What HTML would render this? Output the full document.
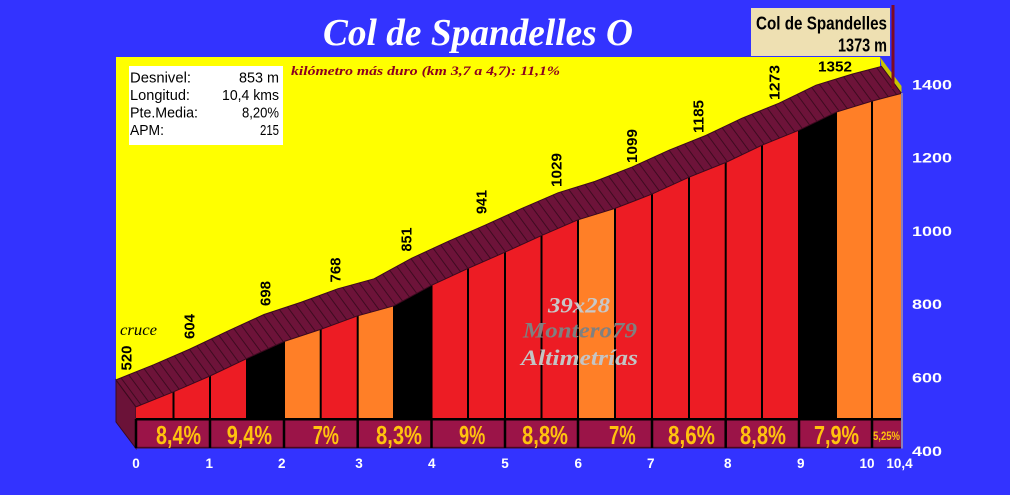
<!DOCTYPE html>
<html><head><meta charset="utf-8"><style>
html,body{margin:0;padding:0;background:#3333ff;}
svg{display:block;}
</style></head><body>
<svg width="1010" height="495" viewBox="0 0 1010 495" xmlns="http://www.w3.org/2000/svg">
<defs>
<pattern id="h" width="8" height="20" patternUnits="userSpaceOnUse" patternTransform="rotate(-36.5)">
<rect x="0" y="0" width="1" height="20" fill="#3e0b20"/>
</pattern>
</defs>
<rect x="0" y="0" width="1010" height="495" fill="#3333ff"/>
<!-- title -->
<text x="323" y="45" font-family="Liberation Serif, serif" font-style="italic" font-weight="600" font-size="38" fill="#ffffff" textLength="310" lengthAdjust="spacingAndGlyphs">Col de Spandelles O</text>
<!-- yellow back panel -->
<rect x="116" y="57" width="764" height="364" fill="#ffff00"/>
<!-- right side strip -->
<polygon points="880,57 901.5,86 901.5,93.4 881.5,66.4" fill="#c8c400"/>
<!-- flag box -->
<rect x="751" y="8" width="139" height="48" fill="#eee0b2"/>
<text x="756" y="29.3" font-family="Liberation Sans Narrow, Liberation Sans, sans-serif" font-weight="bold" font-size="18" fill="#000" textLength="131" lengthAdjust="spacingAndGlyphs">Col de Spandelles</text>
<text x="838" y="51.7" font-family="Liberation Sans Narrow, Liberation Sans, sans-serif" font-weight="bold" font-size="18" fill="#000" textLength="49" lengthAdjust="spacingAndGlyphs">1373 m</text>
<!-- info box -->
<rect x="129" y="66" width="154" height="79" fill="#ffffff"/>
<g font-family="Liberation Sans, sans-serif" font-size="15" fill="#000">
<text x="130" y="82.5" textLength="61" lengthAdjust="spacingAndGlyphs">Desnivel:</text>
<text x="130" y="100" textLength="60" lengthAdjust="spacingAndGlyphs">Longitud:</text>
<text x="130" y="117.5" textLength="68" lengthAdjust="spacingAndGlyphs">Pte.Media:</text>
<text x="130" y="135" textLength="34" lengthAdjust="spacingAndGlyphs">APM:</text>
<text x="239" y="82.5" textLength="40" lengthAdjust="spacingAndGlyphs">853 m</text>
<text x="222" y="100" textLength="57" lengthAdjust="spacingAndGlyphs">10,4 kms</text>
<text x="242" y="117.5" textLength="37" lengthAdjust="spacingAndGlyphs">8,20%</text>
<text x="260" y="135" textLength="19" lengthAdjust="spacingAndGlyphs">215</text>
</g>
<text x="291" y="75" font-family="Liberation Serif, serif" font-style="italic" font-weight="bold" font-size="12.5" fill="#8b0020" textLength="269" lengthAdjust="spacingAndGlyphs">kilómetro más duro (km 3,7 a 4,7):  11,1%</text>

<!-- left side face -->
<polygon points="116,379.9 136,406.9 136,448.5 116,422" fill="#6b1238" stroke="#3a0a1e" stroke-width="1"/>

<!-- front bars base red -->
<polygon points="136,406.9 173.5,391.8 210,376 247,358.4 284,341.5 320.7,329.4 357.7,315.8 394,305.8 431.5,285.3 468,268.4 505,252.2 541.5,235.6 578,219.8 615,208.4 652,194.1 689,177.2 725.7,162.5 762,145.2 799,130.2 836,112.2 872,101.1 901.5,93.4 901.5,419 136,419" fill="#ed1c24"/>
<!-- black segments -->
<polygon points="247,358.4 284,341.5 284,419 247,419" fill="#000"/>
<polygon points="394,305.8 431.5,285.3 431.5,419 394,419" fill="#000"/>
<polygon points="799,130.2 836,112.2 836,419 799,419" fill="#000"/>
<!-- orange segments -->
<polygon points="284,341.5 320.7,329.4 320.7,419 284,419" fill="#ff7f27"/>
<polygon points="357.7,315.8 394,305.8 394,419 357.7,419" fill="#ff7f27"/>
<polygon points="578,219.8 615,208.4 615,419 578,419" fill="#ff7f27"/>
<polygon points="836,112.2 872,101.1 901.5,93.4 901.5,419 836,419" fill="#ff7f27"/>

<!-- dividers -->
<g stroke="#000" stroke-width="2">
<line x1="173.5" y1="391.8" x2="173.5" y2="419"/>
<line x1="210" y1="376" x2="210" y2="419"/>
<line x1="247" y1="358.4" x2="247" y2="419"/>
<line x1="284" y1="341.5" x2="284" y2="419"/>
<line x1="320.7" y1="329.4" x2="320.7" y2="419"/>
<line x1="357.7" y1="315.8" x2="357.7" y2="419"/>
<line x1="394" y1="305.8" x2="394" y2="419"/>
<line x1="431.5" y1="285.3" x2="431.5" y2="419"/>
<line x1="468" y1="268.4" x2="468" y2="419"/>
<line x1="505" y1="252.2" x2="505" y2="419"/>
<line x1="541.5" y1="235.6" x2="541.5" y2="419"/>
<line x1="578" y1="219.8" x2="578" y2="419"/>
<line x1="615" y1="208.4" x2="615" y2="419"/>
<line x1="652" y1="194.1" x2="652" y2="419"/>
<line x1="689" y1="177.2" x2="689" y2="419"/>
<line x1="725.7" y1="162.5" x2="725.7" y2="419"/>
<line x1="762" y1="145.2" x2="762" y2="419"/>
<line x1="799" y1="130.2" x2="799" y2="419"/>
<line x1="836" y1="112.2" x2="836" y2="419"/>
<line x1="872" y1="101.1" x2="872" y2="419"/>
</g>

<!-- top face -->
<polygon points="136,406.9 173.5,391.8 210,376 247,358.4 284,341.5 320.7,329.4 357.7,315.8 394,305.8 431.5,285.3 468,268.4 505,252.2 541.5,235.6 578,219.8 615,208.4 652,194.1 689,177.2 725.7,162.5 762,145.2 799,130.2 836,112.2 872,101.1 901.5,93.4 881.5,66.4 852,74.1 816,85.2 779,103.2 742,118.2 705.7,135.5 669,150.2 632,167.1 595,181.4 558,192.8 521.5,208.6 485,225.2 448,241.4 411.5,258.3 374,278.8 337.7,288.8 300.7,302.4 264,314.5 227,331.4 190,349 153.5,364.8 116,379.9" fill="#6d1339"/>
<polygon points="136,406.9 173.5,391.8 210,376 247,358.4 284,341.5 320.7,329.4 357.7,315.8 394,305.8 431.5,285.3 468,268.4 505,252.2 541.5,235.6 578,219.8 615,208.4 652,194.1 689,177.2 725.7,162.5 762,145.2 799,130.2 836,112.2 872,101.1 901.5,93.4 881.5,66.4 852,74.1 816,85.2 779,103.2 742,118.2 705.7,135.5 669,150.2 632,167.1 595,181.4 558,192.8 521.5,208.6 485,225.2 448,241.4 411.5,258.3 374,278.8 337.7,288.8 300.7,302.4 264,314.5 227,331.4 190,349 153.5,364.8 116,379.9" fill="url(#h)" stroke="#3a0a1e" stroke-width="1"/>

<!-- band -->
<rect x="136" y="419" width="765.5" height="29" fill="#9b1448"/>
<rect x="136" y="418" width="765.5" height="2.5" fill="#000"/>
<rect x="136" y="446.8" width="765.5" height="1.7" fill="#4a0820"/>
<g stroke="#000" stroke-width="2.5">
<line x1="136" y1="419" x2="136" y2="448"/>
<line x1="210" y1="419" x2="210" y2="448"/>
<line x1="284" y1="419" x2="284" y2="448"/>
<line x1="357.7" y1="419" x2="357.7" y2="448"/>
<line x1="431.5" y1="419" x2="431.5" y2="448"/>
<line x1="505" y1="419" x2="505" y2="448"/>
<line x1="578" y1="419" x2="578" y2="448"/>
<line x1="652" y1="419" x2="652" y2="448"/>
<line x1="725.7" y1="419" x2="725.7" y2="448"/>
<line x1="799" y1="419" x2="799" y2="448"/>
<line x1="872" y1="419" x2="872" y2="448"/>
</g>
<!-- right edge -->
<rect x="901" y="93" width="2" height="355.5" fill="#8c7fb8"/>
<!-- flag pole -->
<rect x="891.5" y="5" width="3" height="84" fill="#7d0a25"/>

<!-- percentages -->
<g font-family="Liberation Sans Narrow, Liberation Sans, sans-serif" font-weight="bold" font-size="26" fill="#ffc20e">
<text x="156" y="444" textLength="45" lengthAdjust="spacingAndGlyphs">8,4%</text>
<text x="226.7" y="444" textLength="45.3" lengthAdjust="spacingAndGlyphs">9,4%</text>
<text x="312.7" y="444" textLength="26.3" lengthAdjust="spacingAndGlyphs">7%</text>
<text x="376" y="444" textLength="46" lengthAdjust="spacingAndGlyphs">8,3%</text>
<text x="459" y="444" textLength="26.3" lengthAdjust="spacingAndGlyphs">9%</text>
<text x="522" y="444" textLength="46" lengthAdjust="spacingAndGlyphs">8,8%</text>
<text x="609" y="444" textLength="26.7" lengthAdjust="spacingAndGlyphs">7%</text>
<text x="668" y="444" textLength="47" lengthAdjust="spacingAndGlyphs">8,6%</text>
<text x="740" y="444" textLength="46" lengthAdjust="spacingAndGlyphs">8,8%</text>
<text x="814" y="444" textLength="45" lengthAdjust="spacingAndGlyphs">7,9%</text>
<text x="873" y="440" font-size="11.5" textLength="27" lengthAdjust="spacingAndGlyphs">5,25%</text>
</g>

<!-- elevation labels -->
<g font-family="Liberation Sans, sans-serif" font-weight="bold" font-size="14.5" fill="#000">
<text transform="translate(131.3,370.5) rotate(-90)" textLength="25" lengthAdjust="spacingAndGlyphs">520</text>
<text transform="translate(194.3,339) rotate(-90)" textLength="25" lengthAdjust="spacingAndGlyphs">604</text>
<text transform="translate(270.3,306) rotate(-90)" textLength="25" lengthAdjust="spacingAndGlyphs">698</text>
<text transform="translate(340.3,282.5) rotate(-90)" textLength="25" lengthAdjust="spacingAndGlyphs">768</text>
<text transform="translate(411.3,251.5) rotate(-90)" textLength="24" lengthAdjust="spacingAndGlyphs">851</text>
<text transform="translate(486.5,214) rotate(-90)" textLength="24" lengthAdjust="spacingAndGlyphs">941</text>
<text transform="translate(561.7,187) rotate(-90)" textLength="34" lengthAdjust="spacingAndGlyphs">1029</text>
<text transform="translate(637,163) rotate(-90)" textLength="34" lengthAdjust="spacingAndGlyphs">1099</text>
<text transform="translate(703.3,133) rotate(-90)" textLength="33" lengthAdjust="spacingAndGlyphs">1185</text>
<text transform="translate(779.3,100) rotate(-90)" textLength="35" lengthAdjust="spacingAndGlyphs">1273</text>
<text x="818" y="71.5" textLength="34" lengthAdjust="spacingAndGlyphs">1352</text>
</g>
<text x="120" y="335" font-family="Liberation Serif, serif" font-style="italic" font-size="16" fill="#000" textLength="37" lengthAdjust="spacingAndGlyphs">cruce</text>

<!-- watermark -->
<g font-family="Liberation Serif, serif" font-style="italic" font-weight="bold" font-size="22">
<text x="548" y="312.5" fill="#c8c8c8" textLength="62" lengthAdjust="spacingAndGlyphs">39x28</text>
<text x="523" y="337.3" fill="#808080" textLength="114" lengthAdjust="spacingAndGlyphs">Montero79</text>
<text x="521" y="365" fill="#c4c4c4" textLength="117" lengthAdjust="spacingAndGlyphs">Altimetrías</text>
</g>

<!-- y axis labels -->
<g font-family="Liberation Sans, sans-serif" font-weight="bold" font-size="14" fill="#fff">
<text x="912" y="89.5" textLength="40" lengthAdjust="spacingAndGlyphs">1400</text>
<text x="912" y="162.5" textLength="40" lengthAdjust="spacingAndGlyphs">1200</text>
<text x="912" y="236" textLength="40" lengthAdjust="spacingAndGlyphs">1000</text>
<text x="912" y="309" textLength="30" lengthAdjust="spacingAndGlyphs">800</text>
<text x="912" y="382.7" textLength="30" lengthAdjust="spacingAndGlyphs">600</text>
<text x="912" y="456" textLength="30" lengthAdjust="spacingAndGlyphs">400</text>
</g>
<!-- x axis labels -->
<g font-family="Liberation Sans, sans-serif" font-weight="bold" font-size="13.5" fill="#fff" text-anchor="middle">
<text x="136" y="468">0</text>
<text x="209.3" y="468">1</text>
<text x="281.7" y="468">2</text>
<text x="359" y="468">3</text>
<text x="431.7" y="468">4</text>
<text x="505" y="468">5</text>
<text x="578.3" y="468">6</text>
<text x="650.7" y="468">7</text>
<text x="727.7" y="468">8</text>
<text x="800.7" y="468">9</text>
<text x="867" y="468">10</text>
<text x="899.5" y="468">10,4</text>
</g>
</svg>
</body></html>
